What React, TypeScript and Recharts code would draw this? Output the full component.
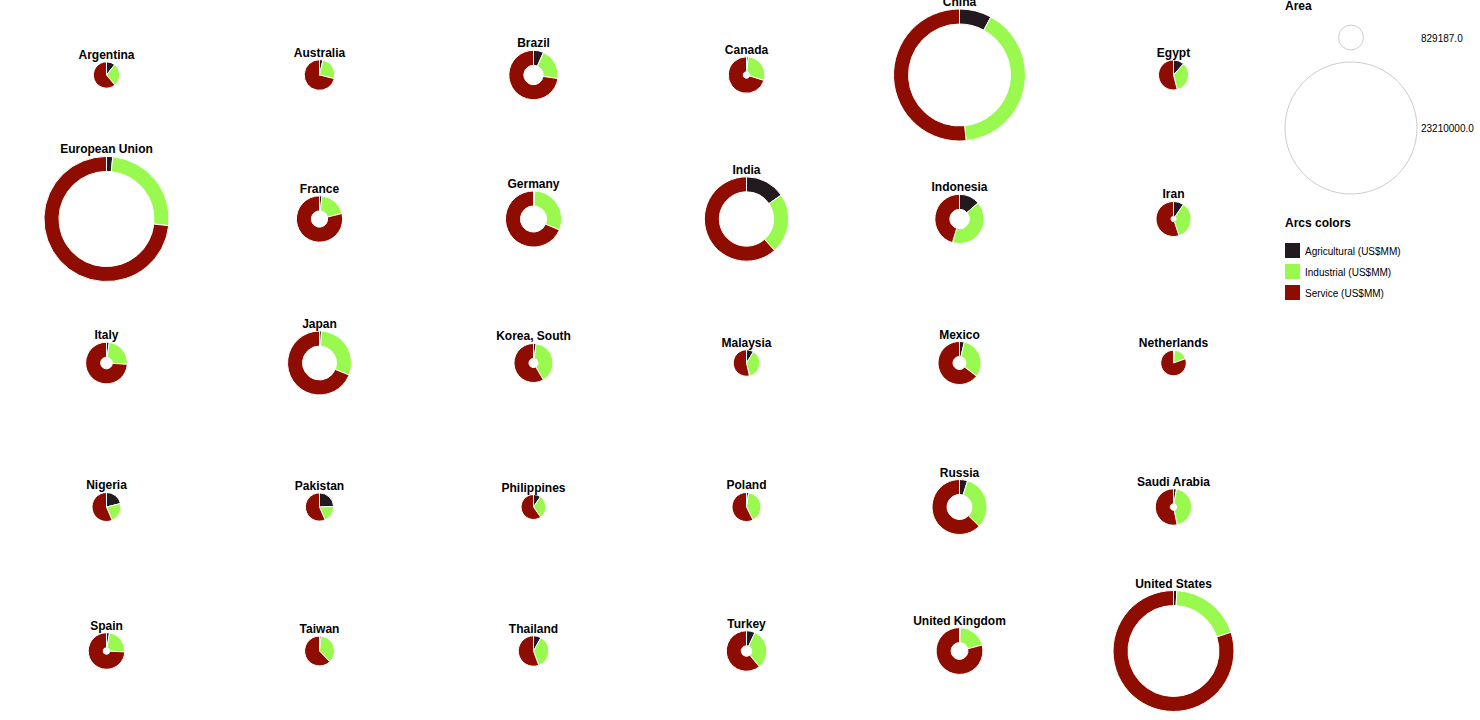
import React from 'react';
import { PieChart, Pie, Cell } from 'recharts';

// GDP composition by sector, 30 economies
const countries = [
  'Argentina', 'Australia', 'Brazil', 'Canada', 'China', 'Egypt',
  'European Union', 'France', 'Germany', 'India', 'Indonesia', 'Iran',
  'Italy', 'Japan', 'Korea, South', 'Malaysia', 'Mexico', 'Netherlands',
  'Nigeria', 'Pakistan', 'Philippines', 'Poland', 'Russia', 'Saudi Arabia',
  'Spain', 'Taiwan', 'Thailand', 'Turkey', 'United Kingdom', 'United States',
];

// total GDP, US$MM
const totals = [
  922100, 1248000, 3248000, 1774000, 23210000, 1204000,
  20850000, 2856000, 4199000, 9474000, 3243000, 1640000,
  2317000, 5443000, 2035000, 933300, 2463000, 870000,
  1121000, 1061000, 829187, 1126000, 4016000, 1775000,
  1778000, 1189000, 1236000, 2186000, 2925000, 19490000,
];

// sector shares, %
const agriShare = [
  10.8, 3.6, 6.6, 1.6, 7.9, 11.7,
  1.6, 1.7, 0.7, 15.4, 13.7, 9.6,
  2.1, 1.0, 2.2, 8.8, 3.6, 1.6,
  21.1, 24.4, 9.6, 2.4, 4.7, 2.6,
  2.6, 1.8, 8.2, 6.8, 0.7, 0.9,
];
const industryShare = [
  28.1, 25.3, 20.7, 28.2, 40.5, 34.3,
  25.1, 19.5, 30.7, 23.0, 41.0, 35.3,
  23.9, 30.1, 39.3, 37.6, 31.9, 17.9,
  22.5, 19.1, 30.6, 40.2, 32.4, 44.2,
  23.2, 36.0, 36.2, 32.3, 20.2, 19.1,
];
const serviceShare = [
  61.1, 71.2, 72.7, 70.2, 51.6, 54.0,
  73.3, 78.8, 68.6, 61.5, 45.4, 55.0,
  73.9, 68.7, 58.3, 53.6, 64.5, 80.4,
  56.4, 56.5, 59.8, 57.4, 62.3, 53.2,
  74.2, 62.1, 55.6, 60.7, 79.2, 80.0,
];

const sectorNames = ['Agricultural (US$MM)', 'Industrial (US$MM)', 'Service (US$MM)'];
const sectorColors = ['#231a1f', '#99f94f', '#8e0c00'];

const FONT = '"Liberation Sans", Arial, Helvetica, sans-serif';
const COLS = 6;
const CELL_W = 1280 / COLS;
const CELL_H = 144;
const TOP = 3;
const R_MAX = 66;
const RING = 15;

const maxTotal = Math.max(...totals);
const minTotal = Math.min(...totals);
const radius = (v: number) => R_MAX * Math.sqrt(v / maxTotal);

const pieData = (i: number) =>
  [agriShare[i], industryShare[i], serviceShare[i]].map((s, k) => ({
    name: sectorNames[k],
    value: (totals[i] * s) / 100,
  }));

const Multiple = ({ i }: { i: number }) => {
  const col = i % COLS;
  const row = Math.floor(i / COLS);
  const r = radius(totals[i]);
  return (
    <div
      style={{
        position: 'absolute',
        left: Math.round(col * CELL_W),
        top: TOP + row * CELL_H,
        width: 213,
        height: CELL_H,
      }}
    >
      <PieChart width={213} height={CELL_H} margin={{ top: 0, right: 0, bottom: 0, left: 0 }}>
        <Pie
          data={pieData(i)}
          dataKey="value"
          nameKey="name"
          cx="50%"
          cy="50%"
          outerRadius={r}
          innerRadius={Math.max(0, r - RING)}
          startAngle={90}
          endAngle={-270}
          stroke="#fff"
          strokeWidth={1}
          isAnimationActive={false}
        >
          {sectorColors.map((c) => (
            <Cell key={c} fill={c} />
          ))}
        </Pie>
      </PieChart>
    </div>
  );
};

export default function App() {
  const areaLegend = [minTotal, maxTotal];
  return (
    <div
      style={{
        position: 'absolute',
        left: 0,
        top: 0,
        width: 1480,
        height: 720,
        background: '#fff',
        overflow: 'hidden',
        fontFamily: FONT,
      }}
    >
      {countries.map((_, i) => (
        <Multiple key={i} i={i} />
      ))}
      <svg
        width={1480}
        height={720}
        style={{ position: 'absolute', left: 0, top: 0, pointerEvents: 'none' }}
        fontFamily={FONT}
      >
        {countries.map((name, i) => {
          const col = i % COLS;
          const row = Math.floor(i / COLS);
          const cx = Math.round(col * CELL_W) + 106.5;
          const cy = TOP + row * CELL_H + CELL_H / 2;
          return (
            <text
              key={name}
              x={cx}
              y={cy - radius(totals[i]) - 3}
              textAnchor="middle"
              fontSize={12}
              fontWeight="bold"
              fill="#000"
            >
              {name}
            </text>
          );
        })}

        {/* legend: area */}
        <text x={1285} y={10} fontSize={12} fontWeight="bold" fill="#000">
          Area
        </text>
        {areaLegend.map((v, k) => {
          const cy = k === 0 ? 37.5 : 128;
          return (
            <g key={v}>
              <circle cx={1351} cy={cy} r={radius(v)} fill="none" stroke="#cccccc" strokeWidth={1} />
              <text x={1421} y={cy + 4} fontSize={10} fill="#000">
                {v.toFixed(1)}
              </text>
            </g>
          );
        })}

        {/* legend: arc colours */}
        <text x={1285} y={227} fontSize={12} fontWeight="bold" fill="#000">
          Arcs colors
        </text>
        {sectorNames.map((n, k) => (
          <g key={n}>
            <rect x={1285} y={243 + k * 21} width={15} height={15} fill={sectorColors[k]} />
            <text x={1305} y={255 + k * 21} fontSize={10} fill="#000">
              {n}
            </text>
          </g>
        ))}
      </svg>
    </div>
  );
}
